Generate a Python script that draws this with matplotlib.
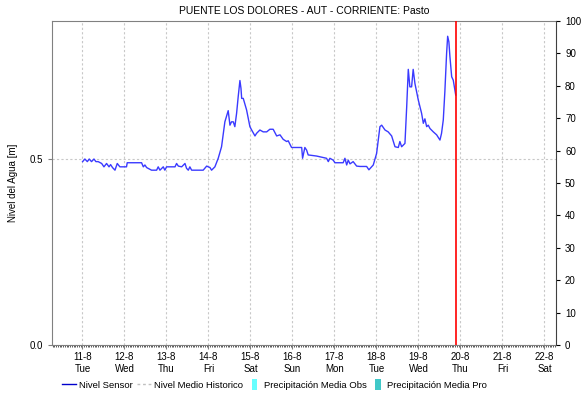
import matplotlib
matplotlib.use("Agg")
import matplotlib.pyplot as plt
from matplotlib.lines import Line2D
from matplotlib.patches import Patch, Rectangle
from matplotlib.legend_handler import HandlerPatch

plt.rcParams['font.family'] = ['Liberation Sans', 'DejaVu Sans']

# hours since 11-8 00:00 and water level [m]
horas = [0.1, 1.4, 2.8, 3.9, 5.2, 6.6, 7.7, 9.0, 11.0, 12.3, 13.8, 15.2, 16.1, 17.2,
         18.6, 19.9, 21.4, 25.2, 25.6, 33.8, 34.8, 35.7, 36.7, 39.5, 42.4, 43.3, 44.3,
         46.2, 47.1, 48.1, 52.9, 53.8, 54.8, 56.7, 58.6, 59.5, 60.5, 61.4, 62.4, 69.0,
         71.0, 72.9, 73.8, 75.7, 77.6, 79.5, 81.4, 83.3, 84.3, 85.2, 86.2, 87.1, 88.1,
         89.0, 90.0, 90.6, 91.0, 91.9, 93.8, 95.7, 96.7, 98.6, 99.5, 101.4, 103.3, 105.3,
         107.1, 109.0, 111.0, 112.9, 114.7, 116.7, 117.6, 119.5, 125.3, 125.8, 127.1,
         128.1, 129.0, 133.8, 139.5, 140.5, 141.4, 143.3, 144.3, 149.0, 150.0, 151.0,
         151.9, 152.9, 154.7, 156.7, 158.6, 162.4, 163.7, 166.2, 168.1, 170.0, 171.0,
         172.9, 174.7, 176.7, 178.6, 180.5, 181.4, 182.4, 184.3, 185.3, 186.2, 187.1,
         188.1, 189.0, 190.0, 191.9, 193.8, 194.8, 195.7, 196.7, 197.6, 198.6, 200.5,
         202.4, 204.3, 205.2, 206.2, 207.1, 208.1, 208.7, 209.4, 210.0, 211.0, 211.9,
         213.3]
nivel = [0.493, 0.500, 0.493, 0.500, 0.493, 0.500, 0.493, 0.493, 0.488, 0.479, 0.488,
         0.479, 0.485, 0.477, 0.470, 0.488, 0.479, 0.479, 0.490, 0.490, 0.479, 0.484,
         0.477, 0.470, 0.470, 0.479, 0.470, 0.479, 0.470, 0.479, 0.479, 0.488, 0.481,
         0.479, 0.488, 0.475, 0.470, 0.479, 0.470, 0.470, 0.481, 0.477, 0.470, 0.479,
         0.502, 0.533, 0.600, 0.630, 0.591, 0.600, 0.600, 0.587, 0.623, 0.667, 0.711,
         0.690, 0.663, 0.663, 0.632, 0.587, 0.578, 0.562, 0.569, 0.578, 0.573, 0.573,
         0.580, 0.580, 0.562, 0.565, 0.553, 0.547, 0.549, 0.531, 0.531, 0.502, 0.531,
         0.524, 0.511, 0.508, 0.502, 0.493, 0.502, 0.497, 0.490, 0.490, 0.502, 0.484,
         0.497, 0.487, 0.493, 0.481, 0.480, 0.480, 0.471, 0.484, 0.515, 0.587, 0.591,
         0.578, 0.573, 0.562, 0.533, 0.531, 0.547, 0.533, 0.542, 0.641, 0.741, 0.694,
         0.694, 0.741, 0.703, 0.659, 0.623, 0.596, 0.608, 0.587, 0.591, 0.582, 0.573,
         0.565, 0.551, 0.569, 0.605, 0.681, 0.784, 0.830, 0.815, 0.775, 0.721, 0.712,
         0.672]

ahora = 213.6
dias = ['11-8', '12-8', '13-8', '14-8', '15-8', '16-8', '17-8', '18-8', '19-8',
        '20-8', '21-8', '22-8']
semana = ['Tue', 'Wed', 'Thu', 'Fri', 'Sat', 'Sun', 'Mon', 'Tue', 'Wed', 'Thu',
          'Fri', 'Sat']

fig = plt.figure(figsize=(5.82, 4.04), dpi=100)
ax = fig.add_axes([0.0902, 0.146, 0.8651, 0.802])

ax.plot(horas, nivel, color='#3a3aff', lw=1.0, zorder=3)
ax.axvline(ahora, color='#ff0000', lw=1.2, zorder=4)

ax.set_xlim(-17.1, 270.6)
ax.set_ylim(0, 0.871)
ax.set_xticks([24 * i for i in range(len(dias))])
ax.set_xticklabels([d + '\n' + s for d, s in zip(dias, semana)], fontsize=7)
ax.set_xticks(range(-17, 271, 1), minor=True)
ax.tick_params(axis='x', which='minor', length=1.5, width=0.6, color='#404040')
ax.tick_params(axis='x', which='major', length=3, color='#808080', labelsize=7, pad=2)
ax.set_yticks([0.0, 0.5])
ax.set_yticklabels(['0.0', '0.5'], fontsize=7)
ax.tick_params(axis='y', length=3, color='#808080')
ax.grid(True, axis='both', which='major', color='#c8c8c8', ls=(0, (2, 2)), lw=0.8)
ax.set_ylabel('Nivel del Agua [m]', fontsize=7)
ax.yaxis.set_label_coords(-0.068, 0.5)

for s in ['left', 'top', 'bottom']:
    ax.spines[s].set_color('#808080')
ax.spines['right'].set_visible(False)

ax2 = ax.twinx()
ax2.set_ylim(0, 100)
ax2.set_yticks(range(0, 101, 10))
ax2.tick_params(axis='y', labelsize=7, length=3)
for s in ['left', 'top', 'bottom']:
    ax2.spines[s].set_visible(False)
ax2.spines['right'].set_color('#404040')

ax.set_title('PUENTE LOS DOLORES - AUT - CORRIENTE: Pasto', fontsize=7.5, pad=5)


def barra(legend, orig_handle, xdescent, ydescent, width, height, fontsize):
    w = 3.8
    return Rectangle((width * 0.55 - xdescent - w / 2, -ydescent + height / 2 - 4), w, 8)


handles = [Line2D([], [], color='#0000cc', lw=1),
           Line2D([], [], color='#c0c0c0', lw=1, ls=(0, (2, 2))),
           Patch(facecolor='#66ffff', edgecolor='none'),
           Patch(facecolor='#40c8c8', edgecolor='none')]
labels = ['Nivel Sensor', 'Nivel Medio Historico', 'Precipitación Media Obs',
          'Precipitación Media Pro']
fig.legend(handles, labels, loc='center', bbox_to_anchor=(0.472, 0.047), ncol=4,
           frameon=False, fontsize=6.8, handlelength=1.5, handletextpad=0.3,
           columnspacing=0.4,
           handler_map={Patch: HandlerPatch(patch_func=barra)})

fig.savefig('out.png', dpi=100)
